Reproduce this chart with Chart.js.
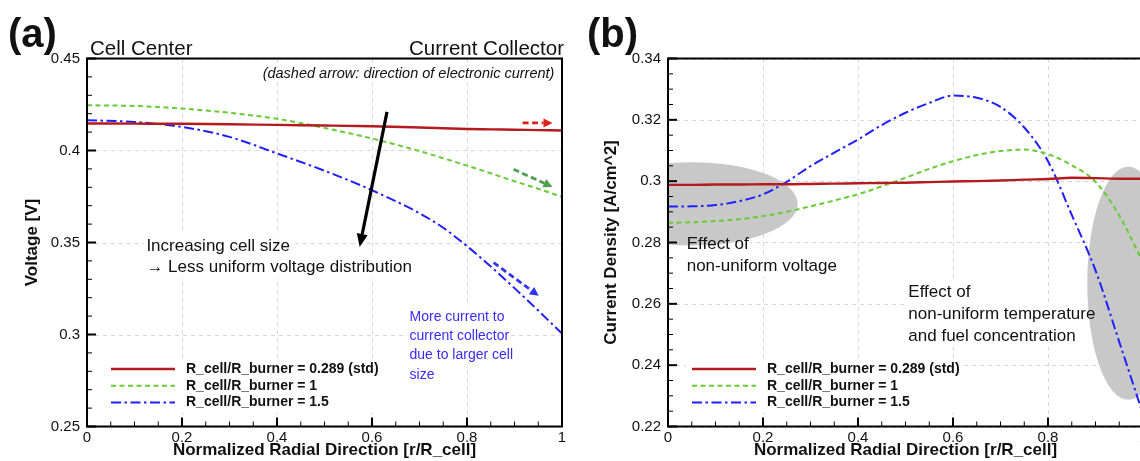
<!DOCTYPE html>
<html lang="en">

<head>
    <meta charset="UTF-8" />
    <title>Voltage and current density along the cell radius</title>
    <script src="https://cdn.jsdelivr.net/npm/chart.js"></script>
    <style>
        body { margin: 0; background: #fff; }
        #wrap { position: relative; width: 1140px; height: 461px; overflow: hidden; }
        .panel { position: absolute; top: 0; width: 580px; height: 461px; }
    </style>
</head>

<body>
    <div id="wrap">
        <div class="panel" style="left:0"><canvas id="chartA" width="580" height="461"></canvas></div>
        <div class="panel" style="left:581px"><canvas id="chartB" width="580" height="461"></canvas></div>
    </div>

    <script>
        const fontFamily = '"Liberation Sans", Arial, Helvetica, sans-serif';
        Chart.defaults.font.family = fontFamily;
        Chart.defaults.color = '#111';

        // ---- data: panel (a) voltage ----
        const radialA = [0, 0.1, 0.2, 0.3, 0.4, 0.5, 0.6, 0.7, 0.75, 0.8, 0.85, 0.9, 0.95, 1];
        const voltStd = [0.4147, 0.4146, 0.4145, 0.4143, 0.4139, 0.4136, 0.4132, 0.4125, 0.4121, 0.4117, 0.4115, 0.4113, 0.4111, 0.4109];
        const volt1 = [0.4246, 0.4242, 0.4228, 0.4205, 0.4172, 0.4123, 0.4065, 0.3997, 0.3958, 0.3918, 0.3876, 0.3833, 0.3792, 0.3748];
        const volt15 = [0.4165, 0.4155, 0.4128, 0.4074, 0.3984, 0.3890, 0.3784, 0.3659, 0.3580, 0.3480, 0.3370, 0.3252, 0.3130, 0.3005];

        // ---- data: panel (b) current density ----
        const radialB = [0, 0.05, 0.1, 0.15, 0.2, 0.25, 0.3, 0.35, 0.4, 0.45, 0.5, 0.55, 0.6, 0.65, 0.7, 0.75, 0.8, 0.85, 0.9, 0.95, 1];
        const curStd = [0.2988, 0.2988, 0.2989, 0.2989, 0.2990, 0.2990, 0.2991, 0.2992, 0.2993, 0.2994, 0.2995, 0.2997, 0.2999, 0.3000, 0.3002, 0.3005, 0.3007, 0.3011, 0.3010, 0.3008, 0.3008];
        const cur1 = [0.2864, 0.2866, 0.2870, 0.2876, 0.2886, 0.2900, 0.2918, 0.2937, 0.2957, 0.2983, 0.3011, 0.3040, 0.3065, 0.3085, 0.3098, 0.3103, 0.3088, 0.3052, 0.2998, 0.2888, 0.2735];
        const cur15 = [0.2917, 0.2918, 0.2922, 0.2935, 0.2957, 0.2998, 0.3049, 0.3093, 0.3136, 0.3183, 0.3223, 0.3255, 0.3279, 0.3272, 0.3242, 0.3175, 0.3065, 0.2890, 0.2709, 0.2476, 0.2240];

        const seriesLabels = ['R_cell/R_burner = 0.289 (std)', 'R_cell/R_burner = 1', 'R_cell/R_burner = 1.5'];

        const xTicks = [0, 0.2, 0.4, 0.6, 0.8, 1];
        const xTickLabels = ['0', '0.2', '0.4', '0.6', '0.8', '1'];
        const voltTicks = [0.25, 0.3, 0.35, 0.4, 0.45];
        const voltTickLabels = ['0.25', '0.3', '0.35', '0.4', '0.45'];
        const curTicks = [0.22, 0.24, 0.26, 0.28, 0.3, 0.32, 0.34];
        const curTickLabels = ['0.22', '0.24', '0.26', '0.28', '0.3', '0.32', '0.34'];

        const seriesStyle = [
            { color: '#b31b1e', width: 2.4, dash: [] },
            { color: '#66cc33', width: 2, dash: [5, 3.5] },
            { color: '#2020ff', width: 2, dash: [10, 3.5, 2.5, 3.5] }
        ];

        const pts = (xs, ys) => xs.map((x, i) => ({ x: x, y: ys[i] }));

        function line(ctx, x0, y0, x1, y1) {
            ctx.beginPath();
            ctx.moveTo(x0, y0);
            ctx.lineTo(x1, y1);
            ctx.stroke();
        }

        function drawArrow(ctx, x0, y0, x1, y1, ar) {
            const ang = Math.atan2(y1 - y0, x1 - x0);
            const len = ar.head[0], half = ar.head[1];
            const bx = x1 - Math.cos(ang) * len, by = y1 - Math.sin(ang) * len;
            ctx.strokeStyle = ar.color;
            ctx.fillStyle = ar.color;
            ctx.lineWidth = ar.width;
            ctx.setLineDash(ar.dash || []);
            line(ctx, x0, y0, bx, by);
            ctx.setLineDash([]);
            ctx.beginPath();
            ctx.moveTo(x1, y1);
            ctx.lineTo(bx + Math.sin(ang) * half, by - Math.cos(ang) * half);
            ctx.lineTo(bx - Math.sin(ang) * half, by + Math.cos(ang) * half);
            ctx.closePath();
            ctx.fill();
        }

        function figurePlugin(cfg) {
            return {
                id: 'figure',
                beforeDatasetsDraw(chart) {
                    const { ctx, chartArea: a, scales: { x, y } } = chart;
                    ctx.save();
                    // dashed grid at the major ticks
                    ctx.strokeStyle = '#d6d6d6';
                    ctx.lineWidth = 1;
                    ctx.setLineDash([4, 4]);
                    ctx.beginPath();
                    xTicks.forEach(v => {
                        const p = Math.round(x.getPixelForValue(v)) + 0.5;
                        ctx.moveTo(p, a.top);
                        ctx.lineTo(p, a.bottom);
                    });
                    cfg.yTicks.forEach(v => {
                        const p = Math.round(y.getPixelForValue(v)) + 0.5;
                        ctx.moveTo(a.left, p);
                        ctx.lineTo(a.right, p);
                    });
                    ctx.stroke();
                    ctx.setLineDash([]);

                    // notes sit on white boxes that hide the grid
                    ctx.fillStyle = '#fff';
                    cfg.notes.forEach(n => {
                        ctx.font = n.font;
                        const px0 = x.getPixelForValue(n.x), py0 = y.getPixelForValue(n.y);
                        n.lines.forEach((t, i) => {
                            const w = ctx.measureText(t).width;
                            const left = n.align === 'right' ? px0 - w : px0;
                            ctx.fillRect(left - 2, py0 + i * n.lh - n.lh / 2, w + 4, n.lh);
                        });
                    });

                    // grey ellipses
                    ctx.beginPath();
                    ctx.rect(a.left, a.top, a.right - a.left, a.bottom - a.top);
                    ctx.clip();
                    ctx.fillStyle = '#c8c8c8';
                    cfg.blobs.forEach(b => {
                        const cx = x.getPixelForValue(b.x), cy = y.getPixelForValue(b.y);
                        const rx = x.getPixelForValue(b.x + b.rx) - cx;
                        const ry = cy - y.getPixelForValue(b.y + b.ry);
                        ctx.beginPath();
                        ctx.ellipse(cx, cy, rx, ry, 0, 0, Math.PI * 2);
                        ctx.fill();
                    });
                    ctx.restore();
                },
                afterDatasetsDraw(chart) {
                    const { ctx, chartArea: a, scales: { x, y } } = chart;
                    ctx.save();

                    // frame
                    ctx.strokeStyle = '#000';
                    ctx.lineWidth = 2;
                    ctx.strokeRect(a.left, a.top, a.right - a.left, a.bottom - a.top);

                    // inward major / minor ticks
                    const yt = cfg.yTicks;
                    for (let i = 0; i < yt.length; i++) {
                        const p = y.getPixelForValue(yt[i]);
                        ctx.lineWidth = 2;
                        line(ctx, a.left, p, a.left + 9, p);
                        if (i < yt.length - 1) {
                            ctx.lineWidth = 1;
                            for (let k = 1; k < cfg.minorY; k++) {
                                const q = y.getPixelForValue(yt[i] + (yt[i + 1] - yt[i]) * k / cfg.minorY);
                                line(ctx, a.left, q, a.left + 5, q);
                            }
                        }
                    }
                    for (let i = 0; i < xTicks.length; i++) {
                        const p = x.getPixelForValue(xTicks[i]);
                        ctx.lineWidth = 2;
                        line(ctx, p, a.bottom, p, a.bottom - 9);
                        if (i < xTicks.length - 1) {
                            ctx.lineWidth = 1;
                            for (let k = 1; k < 4; k++) {
                                const q = x.getPixelForValue(xTicks[i] + (xTicks[i + 1] - xTicks[i]) * k / 4);
                                line(ctx, q, a.bottom, q, a.bottom - 5);
                            }
                        }
                    }

                    // arrows
                    cfg.arrows.forEach(ar => {
                        drawArrow(ctx, x.getPixelForValue(ar.from[0]), y.getPixelForValue(ar.from[1]),
                            x.getPixelForValue(ar.to[0]), y.getPixelForValue(ar.to[1]), ar);
                    });

                    // notes
                    ctx.textBaseline = 'middle';
                    cfg.notes.forEach(n => {
                        ctx.font = n.font;
                        ctx.fillStyle = n.color || '#111';
                        ctx.textAlign = n.align || 'left';
                        const px0 = x.getPixelForValue(n.x), py0 = y.getPixelForValue(n.y);
                        n.lines.forEach((t, i) => ctx.fillText(t, px0, py0 + i * n.lh));
                    });

                    // legend in the lower left corner
                    const lg = { left: a.left + 24, line: 64, gap: 11, top: a.top + 310.5, row: 16.8 };
                    ctx.font = 'bold 14px ' + fontFamily;
                    const tw = Math.max(...chart.data.datasets.map(d => ctx.measureText(d.label).width));
                    ctx.fillStyle = '#fff';
                    ctx.fillRect(lg.left - 6, lg.top - 10, lg.line + lg.gap + tw + 10, lg.row * 2 + 20);
                    chart.data.datasets.forEach((d, i) => {
                        const yy = lg.top + i * lg.row;
                        ctx.strokeStyle = d.borderColor;
                        ctx.lineWidth = d.borderWidth;
                        ctx.setLineDash(d.borderDash);
                        line(ctx, lg.left, yy, lg.left + lg.line, yy);
                        ctx.setLineDash([]);
                        ctx.fillStyle = '#111';
                        ctx.textAlign = 'left';
                        ctx.fillText(d.label, lg.left + lg.line + lg.gap, yy);
                    });
                    ctx.restore();
                },
                afterDraw(chart) {
                    const ctx = chart.ctx;
                    ctx.save();
                    ctx.fillStyle = '#111';
                    ctx.textBaseline = 'alphabetic';
                    cfg.headings.forEach(h => {
                        ctx.font = h.font;
                        ctx.textAlign = h.align || 'left';
                        ctx.fillText(h.text, h.x, h.y);
                    });
                    ctx.restore();
                }
            };
        }

        function makeChart(id, cfg) {
            const datasets = cfg.series.map((ys, i) => ({
                label: seriesLabels[i],
                data: pts(cfg.xs, ys),
                borderColor: seriesStyle[i].color,
                borderWidth: seriesStyle[i].width,
                borderDash: seriesStyle[i].dash,
                fill: false,
                pointRadius: 0,
                cubicInterpolationMode: 'monotone'
            }));
            // draw the solid red line last so it sits on top, as in the figure
            datasets[0].order = -1;

            return new Chart(document.getElementById(id), {
                type: 'line',
                data: { datasets: datasets },
                options: {
                    responsive: false,
                    animation: false,
                    layout: { padding: { left: 0, right: 18, top: 58.5, bottom: 0 } },
                    plugins: { legend: { display: false }, tooltip: { enabled: false } },
                    scales: {
                        x: {
                            type: 'linear',
                            min: 0,
                            max: 1,
                            afterFit: s => { s.height = 34.5; },
                            afterBuildTicks: s => { s.ticks = xTicks.map(v => ({ value: v })); },
                            ticks: {
                                autoSkip: false,
                                maxRotation: 0,
                                padding: 2,
                                color: '#111',
                                font: { size: 15 },
                                callback: (v, i) => xTickLabels[i]
                            },
                            grid: { display: false, drawTicks: false, tickLength: 0 },
                            border: { display: false },
                            title: {
                                display: true,
                                text: 'Normalized Radial Direction [r/R_cell]',
                                color: '#111',
                                font: { size: 17, weight: 'bold' },
                                padding: { top: 0, bottom: 0 }
                            }
                        },
                        y: {
                            type: 'linear',
                            min: cfg.yTicks[0],
                            max: cfg.yTicks[cfg.yTicks.length - 1],
                            afterFit: s => { s.width = 87; },
                            afterBuildTicks: s => { s.ticks = cfg.yTicks.map(v => ({ value: v })); },
                            ticks: {
                                autoSkip: false,
                                padding: 7,
                                color: '#111',
                                font: { size: 15 },
                                callback: (v, i) => cfg.yLabels[i]
                            },
                            grid: { display: false, drawTicks: false, tickLength: 0 },
                            border: { display: false },
                            title: {
                                display: true,
                                text: cfg.yTitle,
                                color: '#111',
                                font: { size: 17, weight: 'bold' },
                                padding: { top: cfg.yTitlePad, bottom: 0 }
                            }
                        }
                    }
                },
                plugins: [figurePlugin(cfg)]
            });
        }

        const noteFont = '17px ' + fontFamily;

        makeChart('chartA', {
            xs: radialA,
            series: [voltStd, volt1, volt15],
            yTicks: voltTicks,
            yLabels: voltTickLabels,
            yTitle: 'Voltage [V]',
            yTitlePad: 22,
            minorY: 5,
            blobs: [],
            arrows: [
                { from: [0.6316, 0.421], to: [0.574, 0.3476], color: '#000', width: 3.2, head: [13, 5.5] },
                { from: [0.917, 0.415], to: [0.98, 0.415], color: '#e0201c', width: 2.8, dash: [6, 3.5], head: [9, 4.5] },
                { from: [0.898, 0.3898], to: [0.98, 0.3802], color: '#4f9e4f', width: 2.8, dash: [6, 3.5], head: [9, 4.5] },
                { from: [0.856, 0.3391], to: [0.951, 0.321], color: '#3434f0', width: 2.8, dash: [6, 3.5], head: [9, 4.5] }
            ],
            notes: [
                { x: 0.984, y: 0.4418, align: 'right', font: 'italic 14.5px ' + fontFamily, lh: 18, lines: ['(dashed arrow: direction of electronic current)'] },
                { x: 0.125, y: 0.3481, font: noteFont, lh: 21, lines: ['Increasing cell size', '\u2192 Less uniform voltage distribution'] },
                { x: 0.679, y: 0.3096, font: '14px ' + fontFamily, lh: 19.3, color: '#3a2cff', lines: ['More current to', 'current collector', 'due to larger cell', 'size'] }
            ],
            headings: [
                { text: '(a)', x: 8, y: 47, font: 'bold 40px ' + fontFamily },
                { text: 'Cell Center', x: 90, y: 55, font: '20.5px ' + fontFamily },
                { text: 'Current Collector', x: 564, y: 55, align: 'right', font: '20.5px ' + fontFamily }
            ]
        });

        makeChart('chartB', {
            xs: radialB,
            series: [curStd, cur1, cur15],
            yTicks: curTicks,
            yLabels: curTickLabels,
            yTitle: 'Current Density [A/cm^2]',
            yTitlePad: 20,
            minorY: 4,
            blobs: [
                { x: 0.05, y: 0.2926, rx: 0.223, ry: 0.0136 },
                { x: 0.969, y: 0.2667, rx: 0.0863, ry: 0.038 }
            ],
            arrows: [],
            notes: [
                { x: 0.0394, y: 0.2794, font: noteFont, lh: 21.7, lines: ['Effect of', 'non-uniform voltage'] },
                { x: 0.506, y: 0.2636, font: noteFont, lh: 21.7, lines: ['Effect of', 'non-uniform temperature', 'and fuel concentration'] }
            ],
            headings: [
                { text: '(b)', x: 6, y: 47, font: 'bold 40px ' + fontFamily }
            ]
        });
    </script>
</body>

</html>
